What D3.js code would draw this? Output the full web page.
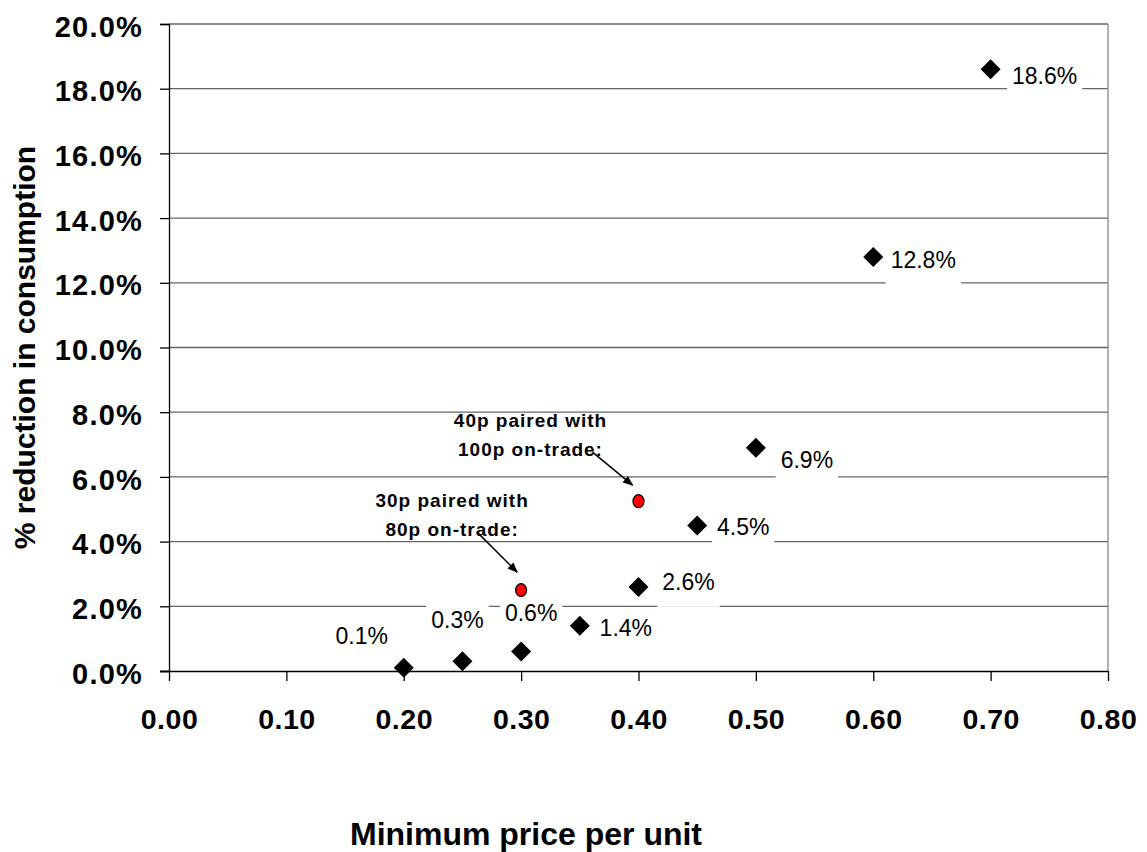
<!DOCTYPE html>
<html>
<head>
<meta charset="utf-8">
<script src="https://cdn.jsdelivr.net/npm/d3@7"></script>
<style>
  html, body { margin: 0; padding: 0; background: #fff; }
  svg { display: block; font-family: "Liberation Sans", Arial, sans-serif; }
</style>
</head>
<body>
<svg id="chart" width="1147" height="852"></svg>
<script>
// ---- data ----
const prices = [0.20, 0.25, 0.30, 0.35, 0.40, 0.45, 0.50, 0.60, 0.70];
const reductions = [0.001, 0.003, 0.006, 0.014, 0.026, 0.045, 0.069, 0.128, 0.186];
const pointLabels = ["0.1%", "0.3%", "0.6%", "1.4%", "2.6%", "4.5%", "6.9%", "12.8%", "18.6%"];

const pairedPrices = [0.30, 0.40];
const pairedReductions = [0.025, 0.0525];
const pairedNotes = [["30p paired with", "80p on-trade:"], ["40p paired with", "100p on-trade:"]];

const xTicks = [0, 0.1, 0.2, 0.3, 0.4, 0.5, 0.6, 0.7, 0.8];
const yTicks = [0, 0.02, 0.04, 0.06, 0.08, 0.10, 0.12, 0.14, 0.16, 0.18, 0.20];
const xTitle = "Minimum price per unit";
const yTitle = "% reduction in consumption";

// ---- layout (label placement offsets in px relative to point) ----
const labelOffsets = [[-42, -32], [-5, -41], [10, -39], [46, 2], [50, -5], [46, 2], [51, 12], [50, 3], [54, 7]];
const noteOffsets = [[-69, -83], [-108, -74]];
const arrowStart = [[-43, -57], [-46, -49]];
const arrowEnd = [[-4, -18], [-6, -16]];

const svg = d3.select("#chart");
const x = d3.scaleLinear().domain([0, 0.8]).range([169, 1108]);
const y = d3.scaleLinear().domain([0, 0.2]).range([671, 24]);

// gridlines
svg.append("g").selectAll("line").data(yTicks.filter(d => d > 0)).join("line")
  .attr("x1", x(0)).attr("x2", x(0.8))
  .attr("y1", d => y(d)).attr("y2", d => y(d))
  .attr("stroke", "#666").attr("stroke-width", 1.3);
// right border
svg.append("line").attr("x1", x(0.8)).attr("x2", x(0.8)).attr("y1", y(0.2)).attr("y2", y(0))
  .attr("stroke", "#888").attr("stroke-width", 1.3);

// data label boxes & text
const lblFont = 23;
const lblG = svg.append("g");
prices.forEach((p, i) => {
  const cx = x(p) + labelOffsets[i][0];
  const cy = y(reductions[i]) + labelOffsets[i][1];
  const t = lblG.append("text").attr("x", cx).attr("y", cy + 8)
    .attr("text-anchor", "middle").attr("font-size", lblFont).attr("fill", "#000")
    .text(pointLabels[i]);
  const w = t.node().getComputedTextLength();
  lblG.insert("rect", "text").attr("x", cx - w / 2 - 5).attr("y", cy - 20)
    .attr("width", w + 10).attr("height", 45).attr("fill", "#fff");
});

// axes
const yAxis = d3.axisLeft(y).tickValues(yTicks).tickFormat(d3.format(".1%")).tickSize(9).tickPadding(17);
const gy = svg.append("g").attr("transform", `translate(${x(0)},0)`).call(yAxis);
gy.selectAll("text").attr("font-size", 29).attr("font-weight", "bold").attr("dy", "0.42em")
  .attr("letter-spacing", 1.2)
  .attr("font-family", "Liberation Sans, Arial, sans-serif").attr("fill", "#000");
gy.selectAll("line, path").attr("stroke", "#000").attr("stroke-width", 1.3);

const xAxis = d3.axisBottom(x).tickValues(xTicks).tickFormat(d3.format(".2f")).tickSize(10).tickPadding(28);
const gx = svg.append("g").attr("transform", `translate(0,${y(0)})`).call(xAxis);
gx.selectAll("text").attr("font-size", 28.5).attr("font-weight", "bold")
  .attr("letter-spacing", 0.5)
  .attr("font-family", "Liberation Sans, Arial, sans-serif").attr("fill", "#000");
gx.selectAll("line, path").attr("stroke", "#000").attr("stroke-width", 1.3);
gx.select("path.domain").attr("d", `M${x(0) - 9},0.5H${x(0.8)}`);

// axis titles
svg.append("text").attr("x", 526).attr("y", 845).attr("text-anchor", "middle")
  .attr("font-size", 32).attr("font-weight", "bold").text(xTitle);
svg.append("text").attr("transform", `translate(35,${(y(0) + y(0.2)) / 2}) rotate(-90)`)
  .attr("text-anchor", "middle").attr("font-size", 30).attr("font-weight", "bold").text(yTitle);

// diamonds
const diamond = d3.symbol().type(d3.symbolSquare).size(200);
svg.append("g").selectAll("path").data(prices).join("path")
  .attr("d", diamond)
  .attr("transform", (d, i) => `translate(${x(d)},${y(reductions[i])}) rotate(45)`)
  .attr("fill", "#000");

// arrows
const defs = svg.append("defs");
defs.append("marker").attr("id", "ah").attr("viewBox", "0 0 10 10").attr("refX", 9).attr("refY", 5)
  .attr("markerWidth", 7).attr("markerHeight", 7).attr("orient", "auto")
  .append("path").attr("d", "M0,1L10,5L0,9z").attr("fill", "#000");
pairedPrices.forEach((p, i) => {
  const px = x(p), py = y(pairedReductions[i]);
  svg.append("line")
    .attr("x1", px + arrowStart[i][0]).attr("y1", py + arrowStart[i][1])
    .attr("x2", px + arrowEnd[i][0]).attr("y2", py + arrowEnd[i][1])
    .attr("stroke", "#000").attr("stroke-width", 1.5).attr("marker-end", "url(#ah)");
  const t = svg.append("text").attr("text-anchor", "middle").attr("font-size", 19)
    .attr("font-weight", "bold").attr("letter-spacing", 1);
  pairedNotes[i].forEach((line, j) => {
    t.append("tspan").attr("x", px + noteOffsets[i][0]).attr("y", py + noteOffsets[i][1] + j * 29).text(line);
  });
});

// red points
svg.append("g").selectAll("ellipse").data(pairedPrices).join("ellipse")
  .attr("cx", d => x(d)).attr("cy", (d, i) => y(pairedReductions[i]))
  .attr("rx", 5.5).attr("ry", 6.5)
  .attr("fill", "#ff0000").attr("stroke", "#000").attr("stroke-width", 1.2);
</script>
</body>
</html>
